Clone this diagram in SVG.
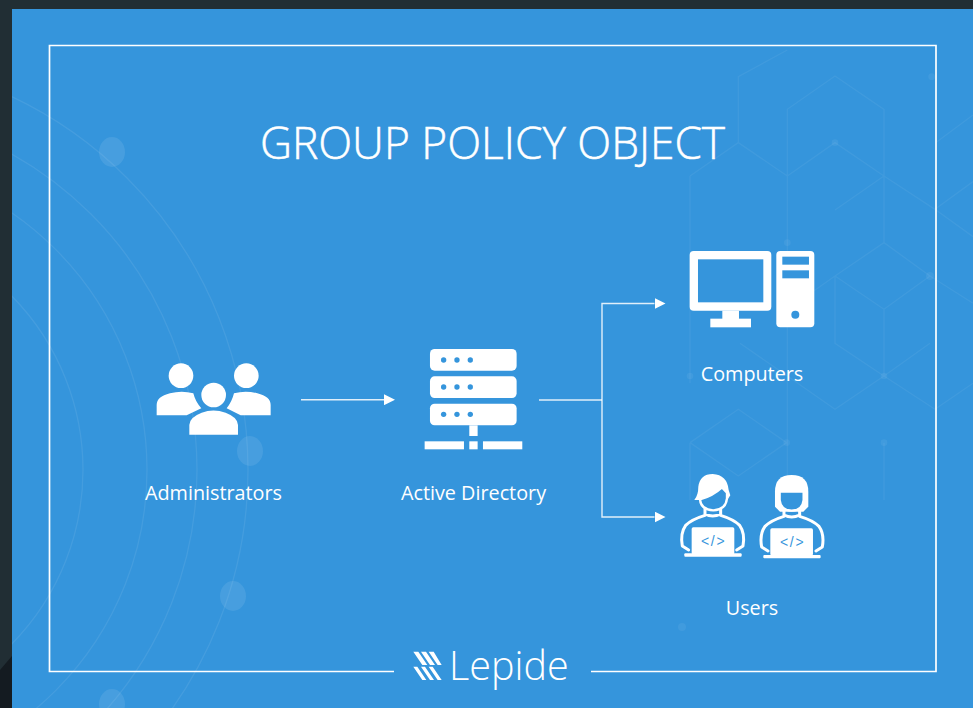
<svg xmlns="http://www.w3.org/2000/svg" width="973" height="708" viewBox="0 0 973 708">
<defs>
<style>
.w{fill:#fff}
.b{fill:#3595dc}
.label{font-family:"Open Sans","Noto Sans",sans-serif;font-size:19.8px;fill:#fff;text-anchor:middle}
.arc{fill:none;stroke:#fff;stroke-opacity:.08;stroke-width:1.3}
.hex{fill:none;stroke:#fff;stroke-opacity:.055;stroke-width:4}
.dot{fill:#fff;fill-opacity:.09}
.hd{fill:#fff;fill-opacity:.06}
.conn{fill:none;stroke:#fff;stroke-opacity:.85;stroke-width:1.4}
.code{font-family:"Liberation Sans",sans-serif;font-size:42px;fill:#3595dc;text-anchor:middle;letter-spacing:5px}
.limb{fill:none;stroke:#fff;stroke-width:9;stroke-linejoin:round;stroke-linecap:round}
.face{fill:#3595dc;stroke:#fff;stroke-width:7}
</style>
<clipPath id="panel"><rect x="12" y="9" width="961" height="699"/></clipPath>
<marker id="tip" viewBox="0 0 11 11" refX="0" refY="5.5" markerUnits="userSpaceOnUse" markerWidth="11" markerHeight="11" orient="auto"><path d="M0 0L11 5.5L0 11Z" fill="#fff"/></marker>
</defs>
<rect width="973" height="708" fill="#212e34"/>
<path d="M0 670L12 656V708H0Z" fill="#141b21"/>
<rect x="12" y="9" width="961" height="699" fill="#3595dc"/>
<g id="background">
<g clip-path="url(#panel)">
<circle class="arc" cx="-165" cy="470" r="413"/>
<circle class="arc" cx="-165" cy="470" r="362"/>
<circle class="arc" cx="-165" cy="470" r="312"/>
<circle class="arc" cx="-165" cy="470" r="248"/>
<ellipse class="dot" cx="112" cy="704" rx="13" ry="15"/>
</g>
<ellipse class="dot" cx="112" cy="152" rx="13" ry="15"/>
<ellipse class="dot" cx="250" cy="451" rx="13" ry="15"/>
<ellipse class="dot" cx="233" cy="596" rx="13" ry="15"/>
<g transform="translate(680 50) scale(.3333)">
<path class="hex" d="M322 378V178L465 78L612 178V378M322 378L465 278L612 378M175 278L322 378M30 378L175 278V80L322 0M612 378L765 478L879 560M765 478L879 395M465 480L612 378M612 378V578M612 578L465 678L320 780M612 578L750 678L612 778L465 678M465 678V880L612 978V778M612 978L465 1078L322 978M612 978L765 1078L879 1000M750 678L879 760M180 880L322 978M612 978L750 880M322 378V1278M30 1178L175 1078L320 1178L175 1278L30 1178M30 1178V1350M30 378V1000M765 280L879 195M612 1178V1350"/>
<circle class="hd" cx="322" cy="578" r="10"/><circle class="hd" cx="465" cy="278" r="10"/><circle class="hd" cx="750" cy="678" r="12"/><circle class="hd" cx="612" cy="978" r="10"/><circle class="hd" cx="320" cy="1178" r="10"/><circle class="hd" cx="612" cy="1178" r="10"/><circle class="hd" cx="30" cy="978" r="10"/><circle class="hd" cx="755" cy="80" r="10"/>
</g>
<circle class="hd" cx="682" cy="627" r="4"/>
</g>
<path id="frame" d="M394 671.500H49.500V45.500H936V671.500H591" fill="none" stroke="#fff" stroke-width="1.700"/>
<text id="title" x="492.500" y="159" font-family="'Open Sans','Noto Sans',sans-serif" font-size="44.300" font-weight="300" fill="#fff" stroke="#fff" stroke-width=".5" text-anchor="middle">GROUP POLICY OBJECT</text>
<g id="connectors">
<path class="conn" d="M301 399.700H384" marker-end="url(#tip)"/>
<path class="conn" d="M539 400H602"/>
<path class="conn" d="M602 400V303.500H654.500" marker-end="url(#tip)"/>
<path class="conn" d="M602 400V517H654.500" marker-end="url(#tip)"/>
</g>
<g id="administrators">
<g transform="translate(130 330) scale(.3333)">
<circle class="w" cx="153" cy="137" r="37"/><circle class="w" cx="349" cy="137" r="37"/>
<path class="w" d="M80 256V225Q80 200 120 190Q155 181 190 190Q196 215 214 235L170 256Z"/>
<path class="w" d="M422 256V225Q422 200 382 190Q347 181 312 190Q306 215 290 235L332 256Z"/>
<circle class="w" cx="251" cy="195" r="37"/>
<path class="w" d="M178 314V285Q178 262 215 248Q250 235 287 248Q324 262 324 285V314Z"/>
</g>
<text class="label" x="213.500" y="500">Administrators</text>
</g>
<g id="active-directory">
<g transform="translate(130 330) scale(.3333)">
<rect class="w" x="900" y="57" width="260" height="65" rx="14"/><rect class="w" x="900" y="139" width="260" height="65" rx="14"/><rect class="w" x="900" y="221" width="260" height="65" rx="14"/>
<g class="b"><circle cx="941" cy="90" r="8"/><circle cx="981" cy="90" r="8"/><circle cx="1021" cy="90" r="8"/><circle cx="941" cy="171" r="8"/><circle cx="981" cy="171" r="8"/><circle cx="1021" cy="171" r="8"/><circle cx="941" cy="253" r="8"/><circle cx="981" cy="253" r="8"/><circle cx="1021" cy="253" r="8"/></g>
<rect class="w" x="1018" y="286" width="25" height="32"/><rect class="w" x="884" y="334" width="118" height="24"/><rect class="w" x="1018" y="334" width="25" height="24"/><rect class="w" x="1059" y="334" width="118" height="24"/>
</g>
<text class="label" x="473.500" y="500">Active Directory</text>
</g>
<g id="computers">
<g transform="translate(590 230) scale(.3333)">
<rect class="w" x="299" y="63" width="245" height="179" rx="12"/><rect class="b" x="324" y="88" width="196" height="129"/>
<rect class="w" x="397" y="242" width="50" height="26"/><rect class="w" x="361" y="266" width="122" height="26"/>
<rect class="w" x="559" y="63" width="114" height="229" rx="12"/><rect class="b" x="577" y="80" width="80" height="24"/><rect class="b" x="577" y="121" width="80" height="24"/><circle class="b" cx="616" cy="254" r="12"/>
</g>
<text class="label" x="752" y="381">Computers</text>
</g>
<g id="users">
<g transform="translate(590 450) scale(.3333)">
<path class="limb" d="M345 172V192Q368 204 392 192V172"/>
<path class="w" d="M313 150Q325 135 325 110Q330 72 368 72Q412 75 416 120L421 136L412 150H330Z"/>
<path class="face" d="M330 148Q368 138 396 112L411 128V145Q408 179 370 181Q332 179 330 148Z"/>
<path class="limb" d="M296 300L277 288Q270 250 287 226Q305 208 345 196M440 300L459 288Q466 250 449 226Q431 208 392 196"/>
<rect class="w" x="305" y="232" width="128" height="82" rx="5"/><rect class="w" x="283" y="310" width="172" height="10" rx="3"/>
<text class="code" x="371" y="288">&lt;/&gt;</text>
<path class="limb" d="M582 175V195Q605 207 629 195V175"/>
<path class="w" d="M555 170V125Q555 75 605 75Q655 75 655 125V170L640 185H570Z"/>
<path class="face" d="M569 125H641V150Q638 181 605 182Q572 181 569 150Z"/>
<path class="limb" d="M534 303L515 291Q508 253 525 229Q543 211 582 199M678 303L697 291Q704 253 687 229Q669 211 629 199"/>
<rect class="w" x="541" y="235" width="128" height="82" rx="5"/><rect class="w" x="520" y="315" width="172" height="10" rx="3"/>
<text class="code" x="608" y="291">&lt;/&gt;</text>
</g>
<text class="label" x="752" y="615">Users</text>
</g>
<g id="logo">
<g transform="translate(380 630) scale(.3333)">
<path class="w" d="M100 65H115L142 105H127ZM123 65H138L165 105H150ZM146 65H161L185 105H173ZM100 110H112L139 150H127ZM123 110H135L162 150H150ZM146 110H158L185 150H173Z"/>
</g>
<text x="449" y="680" font-family="'Open Sans','Noto Sans',sans-serif" font-weight="300" font-size="39.500" fill="#fff">Lepide</text>
</g>
</svg>
